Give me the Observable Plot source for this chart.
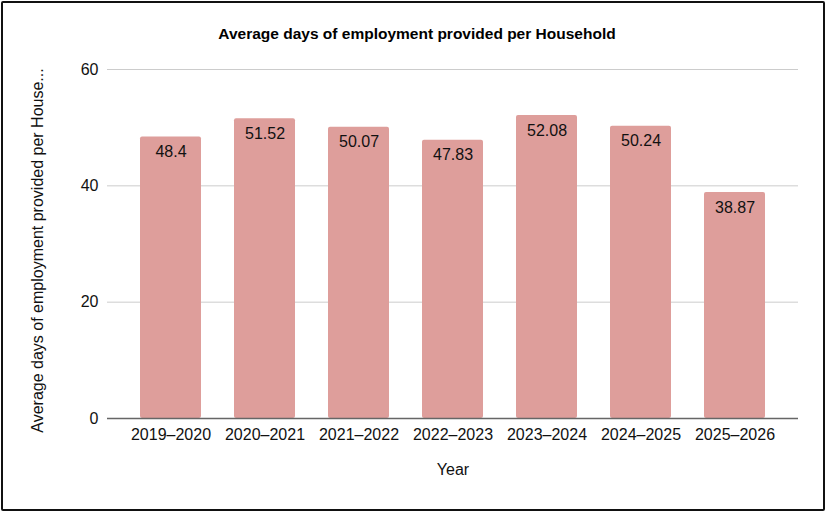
<!DOCTYPE html>
<html>
<head>
<meta charset="utf-8">
<script src="https://cdn.jsdelivr.net/npm/d3@7"></script>
<script src="https://cdn.jsdelivr.net/npm/@observablehq/plot@0.6"></script>
<style>
  html, body { margin: 0; padding: 0; background: #fff; }
  body { width: 828px; height: 512px; position: relative; overflow: hidden; font-family: "Liberation Sans", Arial, sans-serif; }
  #frame { position: absolute; left: 1px; top: 1px; width: 820px; height: 506px; border: 2px solid #111; border-radius: 2px; pointer-events: none; box-sizing: content-box; }
  #title { position: absolute; left: 0; top: 25px; width: 834px; text-align: center; font: bold 15.5px "Liberation Sans", Arial, sans-serif; color: #000; }
  #chart { position: absolute; left: 0; top: 0; }
</style>
</head>
<body>
<div id="chart"></div>
<div id="title">Average days of employment provided per Household</div>
<div id="frame"></div>
<script>
const years = ["2019–2020", "2020–2021", "2021–2022", "2022–2023", "2023–2024", "2024–2025", "2025–2026"];
const values = [48.4, 51.52, 50.07, 47.83, 52.08, 50.24, 38.87];
const yTicks = [0, 20, 40, 60];
const xLabel = "Year";
const yLabel = "Average days of employment provided per House...";

const data = years.map((year, i) => ({year, value: values[i]}));

const chart = Plot.plot({
  width: 828,
  height: 512,
  marginLeft: 107,
  marginRight: 30,
  marginTop: 69,
  marginBottom: 94,
  style: { fontFamily: "'Liberation Sans', Arial, sans-serif", fontSize: "16px", color: "#222", background: "transparent" },
  x: { domain: years, padding: 0.35, label: null, tickSize: 0, tickPadding: 10 },
  y: { domain: [0, 60], ticks: yTicks, label: null, tickSize: 0, tickPadding: 9, grid: false },
  marks: [
    Plot.ruleY(yTicks.filter(d => d !== 0), { stroke: "#ccc", strokeWidth: 1, strokeOpacity: 1 }),
    Plot.barY(data, { x: "year", y: "value", fill: "#de9e9b", rx: 2 }),
    Plot.ruleY([0], { stroke: "#666", strokeWidth: 1.5 }),
    Plot.text(data, { x: "year", y: "value", text: d => String(d.value), dy: 15, fill: "#111", fontSize: 16 }),
    Plot.axisX({ tickSize: 0, tickPadding: 10, fontSize: 16, fill: "#111", label: null }),
    Plot.axisY({ ticks: yTicks, tickSize: 0, tickPadding: 9, fontSize: 16, fill: "#111", label: null }),
    Plot.text([xLabel], { frameAnchor: "bottom", dy: 56, fontSize: 16, fill: "#111" }),
    Plot.text([yLabel], { frameAnchor: "left", textAnchor: "middle", dx: -70, dy: 6.5, rotate: -90, fontSize: 16, fill: "#111" })
  ]
});
document.getElementById("chart").appendChild(chart);
</script>
</body>
</html>
